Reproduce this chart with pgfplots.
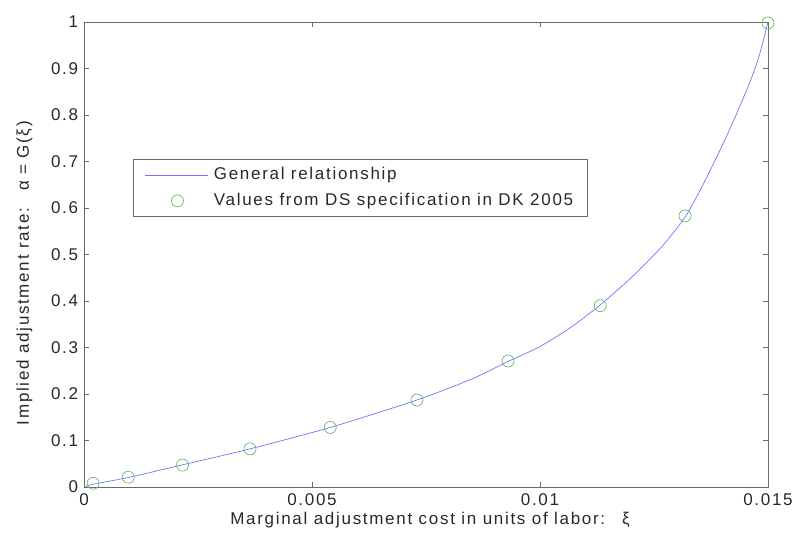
\documentclass[border=0pt]{standalone}
\usepackage{fontspec}
\setmainfont{Liberation Sans}[LetterSpace=10]
\usepackage{pgfplots}
\pgfplotsset{compat=1.18}
\definecolor{lineblue}{RGB}{115,115,255}
\definecolor{circgreen}{RGB}{100,185,100}
\definecolor{axgray}{RGB}{105,105,105}
\definecolor{txt}{RGB}{40,40,40}
\newcommand{\ff}{\fontsize{17}{20}\selectfont}
\pgfplotsset{
  lineleg/.style={legend image code/.code={\draw[##1, lineblue, line width=0.8pt] (0pt,0pt) -- (63pt,0pt);}},
  markleg/.style={legend image code/.code={\draw[##1] plot coordinates {(32pt,0pt)};}},
}
\begin{document}
\ff
\begin{tikzpicture}
\begin{axis}[
  scale only axis, width=684pt, height=465pt,
  xmin=0, xmax=0.015, ymin=0, ymax=1,
  scaled x ticks=false,
  xtick={0,0.005,0.01,0.015}, xticklabels={0,0.005,0.01,0.015},
  ytick={0,0.1,0.2,0.3,0.4,0.5,0.6,0.7,0.8,0.9,1},
  yticklabels={0,0.1,0.2,0.3,0.4,0.5,0.6,0.7,0.8,0.9,1},
  tick align=inside, tick pos=both, major tick length=5pt,
  axis line style={axgray, line width=0.9pt},
  every tick/.style={axgray, line width=0.6pt},
  tick label style={font=\ff, text=txt},
  xticklabel style={yshift=-1pt},
  xlabel={Marginal adjustment cost in units of labor:\quad ξ},
  ylabel={Implied adjustment rate:\quad α = G(ξ)},
  label style={font=\ff, text=txt},
  xlabel style={at={(axis description cs:0.506,-0.072)}, anchor=center},
  ylabel style={at={(axis description cs:-0.087,0.46)}, anchor=center},
  legend style={at={(axis cs:0.00107,0.705)}, anchor=north west, draw=axgray, line width=0.6pt,
    font=\ff, text=txt, inner xsep=12pt, inner ysep=6pt, row sep=7pt,
    /tikz/every odd column/.append style={column sep=3pt}},
  legend cell align=left,
  clip=false,
]
\addplot[lineblue, line width=0.7pt, smooth, tension=0.4, lineleg] coordinates {
(0,0) (0.0002,0.006) (0.001,0.021) (0.002,0.044) (0.0036,0.081) (0.0054,0.128)
(0.0073,0.187) (0.0085,0.232) (0.0093,0.270) (0.0100,0.302) (0.0107,0.345)
(0.0113,0.390) (0.0120,0.450) (0.0127,0.520) (0.0132,0.583) (0.0136,0.655)
(0.0140,0.735) (0.0143,0.800) (0.0146,0.870) (0.0148,0.925) (0.0150,1.0)
};
\addlegendentry{General relationship}
\addplot[only marks, mark=o, mark size=6pt, circgreen, mark options={line width=0.7pt}, markleg] coordinates {
(0.0002,0.008) (0.00097,0.021) (0.00216,0.047) (0.00364,0.082) (0.0054,0.128)
(0.0073,0.187) (0.0093,0.271) (0.01132,0.390) (0.01318,0.583) (0.0150,0.998)
};
\addlegendentry{Values from DS specification in DK 2005}
\end{axis}
\pgfresetboundingbox
\path[use as bounding box] (current axis.south west) ++(-84pt,-58pt) rectangle ++(796pt,545pt);
\end{tikzpicture}
\end{document}
